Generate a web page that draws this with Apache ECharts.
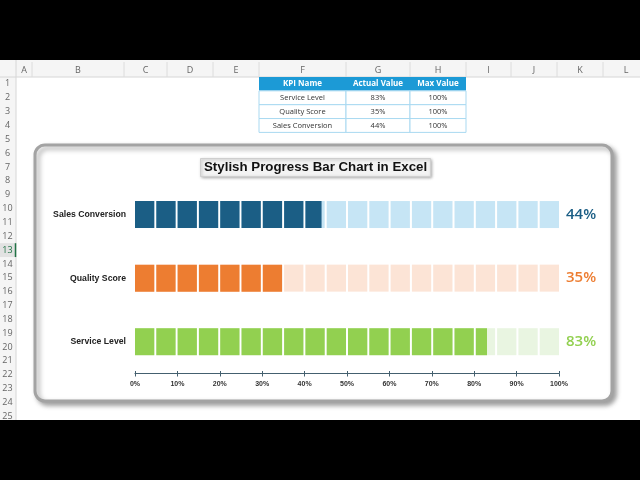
<!DOCTYPE html>
<html>
<head>
<meta charset="utf-8">
<script src="https://cdn.jsdelivr.net/npm/echarts@6/dist/echarts.min.js"></script>
<style>
  html,body{margin:0;padding:0;background:#000;}
  #chart{width:640px;height:480px;}
</style>
</head>
<body>
<div id="chart"></div>
<script>
// KPI data (bottom to top on the chart, same order as the sheet table)
var categories = ['Service Level', 'Quality Score', 'Sales Conversion'];
var actualValues = [83, 35, 44];
var maxValues = [100, 100, 100];
var darkColors = ['#92d050', '#ed7d31', '#1b5e85'];
var lightColors = ['#e9f5e1', '#fce4d6', '#c6e5f5'];
var tableHeaders = ['KPI Name', 'Actual Value', 'Max Value'];
var colLetters = ['A','B','C','D','E','F','G','H','I','J','K','L'];
var segmentCount = 20;

var chart = echarts.init(document.getElementById('chart'));

// sheet layout
var colEdges = [16, 32, 124, 167, 213, 259, 346, 410, 466, 511, 557, 603, 649];
var rowTop = 77, rowH = 13.85;
var uiFont = 'Open Sans';
var g = [];

// white sheet area
g.push({type:'rect', z:-5, shape:{x:0, y:60, width:640, height:360}, style:{fill:'#fff'}});
// column / row header strips
g.push({type:'rect', z:-4, shape:{x:0, y:60, width:640, height:17}, style:{fill:'#f5f5f5'}});
g.push({type:'rect', z:-4, shape:{x:0, y:60, width:16, height:360}, style:{fill:'#f5f5f5'}});
g.push({type:'line', z:-3, shape:{x1:0, y1:77, x2:640, y2:77}, style:{stroke:'#d6d6d6', lineWidth:1}});
g.push({type:'line', z:-3, shape:{x1:16, y1:60, x2:16, y2:420}, style:{stroke:'#d6d6d6', lineWidth:1}});
for (var c = 0; c < colLetters.length; c++) {
  g.push({type:'line', z:-3, shape:{x1:colEdges[c+1], y1:62, x2:colEdges[c+1], y2:77}, style:{stroke:'#dcdcdc', lineWidth:1}});
  g.push({type:'text', z:-2, x:(colEdges[c] + colEdges[c+1]) / 2, y:70,
    style:{text:colLetters[c], fill:'#666', font:'9px ' + uiFont, align:'center', verticalAlign:'middle'}});
}
for (var r = 1; r <= 25; r++) {
  var cy = rowTop + (r - 0.5) * rowH;
  if (r === 13) {
    g.push({type:'rect', z:-3, shape:{x:0, y:rowTop + 12 * rowH, width:16, height:rowH}, style:{fill:'#e2e2e2'}});
    g.push({type:'line', z:-2, shape:{x1:15.5, y1:rowTop + 12 * rowH, x2:15.5, y2:rowTop + 13 * rowH}, style:{stroke:'#217346', lineWidth:1.5}});
  }
  g.push({type:'text', z:-2, x:7.5, y:cy,
    style:{text:String(r), fill:r === 13 ? '#217346' : '#666', font:'9px ' + uiFont, align:'center', verticalAlign:'middle'}});
}

// KPI table (F:H, rows 1-4)
var tCols = [259, 346, 410, 466];
g.push({type:'rect', z:-2, shape:{x:tCols[0], y:rowTop, width:tCols[3] - tCols[0], height:rowH}, style:{fill:'#1c9ad6'}});
for (var c = 0; c < 3; c++) {
  g.push({type:'text', z:-1, x:(tCols[c] + tCols[c+1]) / 2, y:rowTop + rowH / 2,
    style:{text:tableHeaders[c], fill:'#fff', font:'bold 8px ' + uiFont, align:'center', verticalAlign:'middle'}});
}
for (var r = 0; r < categories.length; r++) {
  var ry = rowTop + (r + 1) * rowH;
  var cells = [categories[r], actualValues[r] + '%', maxValues[r] + '%'];
  for (var c = 0; c < 3; c++) {
    g.push({type:'rect', z:-2, shape:{x:tCols[c], y:ry, width:tCols[c+1] - tCols[c], height:rowH},
      style:{fill:'#fff', stroke:'#a9d9f1', lineWidth:1}});
    g.push({type:'text', z:-1, x:(tCols[c] + tCols[c+1]) / 2, y:ry + rowH / 2,
      style:{text:cells[c], fill:'#333', font:'7.5px ' + uiFont, align:'center', verticalAlign:'middle'}});
  }
}

// chart area box
g.push({type:'rect', z:-1, shape:{x:35, y:145, width:577, height:256, r:10},
  style:{fill:'#fff', stroke:'#a3a3a3', lineWidth:3, shadowBlur:5, shadowOffsetX:3, shadowOffsetY:3, shadowColor:'rgba(0,0,0,0.35)'}});

var gridLeft = 135, gridRight = 81;
var segW = (640 - gridLeft - gridRight) / segmentCount - 1.9;
var axisColor = '#44606f';

var option = {
  backgroundColor: 'transparent',
  animation: false,
  graphic: g,
  title: {
    text: 'Stylish Progress Bar Chart in Excel',
    left: 200,
    top: 158,
    padding: [3, 4],
    backgroundColor: '#f3f3f3',
    borderColor: '#cfcfcf',
    borderWidth: 1,
    shadowBlur: 3,
    shadowColor: 'rgba(0,0,0,0.3)',
    shadowOffsetX: 1,
    shadowOffsetY: 1,
    z: 10,
    textStyle: {fontFamily: 'Liberation Sans', fontSize: 13.3, fontWeight: 'bold', color: '#111'}
  },
  grid: {left: gridLeft, right: gridRight, top: 182.75, bottom: 106.5},
  xAxis: [
    {
      type: 'value',
      min: 0,
      max: 100,
      interval: 10,
      z: 10,
      axisLine: {show: true, lineStyle: {color: axisColor, width: 1.2}},
      axisTick: {show: true, length: 3, lineStyle: {color: axisColor}},
      splitLine: {show: false},
      axisLabel: {formatter: '{value}%', fontFamily: 'Liberation Sans', fontSize: 7, fontWeight: 'bold', color: '#333', margin: 7}
    },
    {
      // same scale again, only for the short upward half of each tick
      type: 'value',
      position: 'bottom',
      min: 0,
      max: 100,
      interval: 10,
      z: 10,
      axisLine: {show: false},
      axisTick: {show: true, inside: true, length: 2.5, lineStyle: {color: axisColor}},
      splitLine: {show: false},
      axisLabel: {show: false}
    }
  ],
  yAxis: {
    type: 'category',
    data: categories,
    z: 10,
    axisLine: {show: false},
    axisTick: {show: false},
    axisLabel: {fontFamily: 'Liberation Sans', fontSize: 8.7, fontWeight: 'bold', color: '#222', margin: 9}
  },
  series: [
    {
      name: 'Max',
      type: 'pictorialBar',
      symbol: 'rect',
      symbolRepeat: segmentCount,
      symbolSize: [segW, 27],
      symbolBoundingData: 100,
      barWidth: 27,
      z: 2,
      data: maxValues.map(function (v, i) {
        return {value: v, itemStyle: {color: lightColors[i]}, label: {color: darkColors[i]}};
      }),
      label: {
        show: true,
        position: 'right',
        distance: 7,
        fontFamily: 'Open Sans',
        fontSize: 15,
        fontWeight: 600,
        formatter: function (p) { return actualValues[p.dataIndex] + '%'; }
      }
    },
    {
      name: 'Actual',
      type: 'pictorialBar',
      symbol: 'rect',
      symbolRepeat: segmentCount,
      symbolSize: [segW, 27],
      symbolBoundingData: 100,
      symbolClip: true,
      barWidth: 27,
      z: 3,
      data: actualValues.map(function (v, i) {
        return {value: v, itemStyle: {color: darkColors[i]}};
      })
    }
  ]
};

chart.setOption(option);
</script>
</body>
</html>
